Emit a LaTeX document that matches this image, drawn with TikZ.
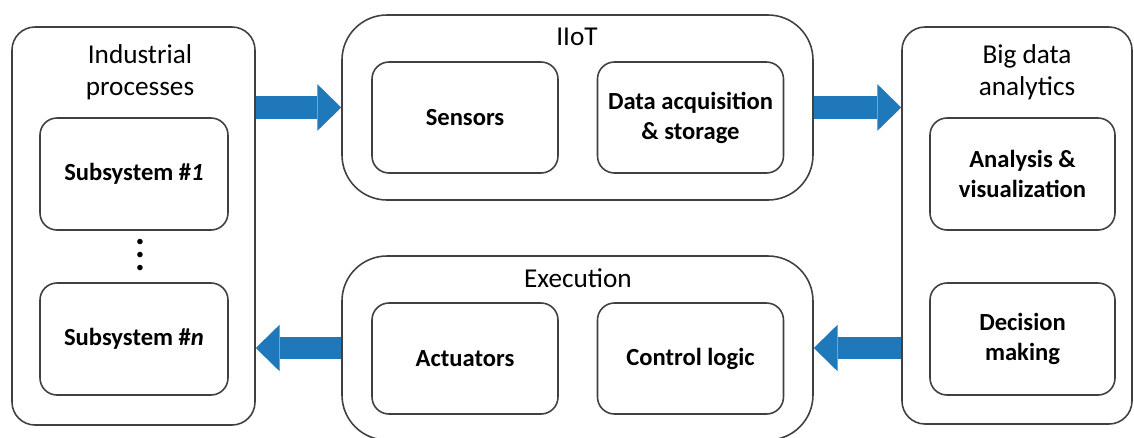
\documentclass[tikz,border=0pt]{standalone}
\usepackage{fontspec}
\setmainfont{Carlito}
\usetikzlibrary{arrows.meta}
\definecolor{flowblue}{HTML}{1E78B9}
\definecolor{edgegray}{HTML}{404040}

\begin{document}
\begin{tikzpicture}[x=0.02cm, y=-0.02cm,
	size/.style 2 args={minimum width=#1*0.02cm, minimum height=#2*0.02cm},
	outer/.style={draw=edgegray, line width=0.9pt, inner sep=0pt},
	inner/.style={outer, rounded corners=0.34cm, align=center,
		font=\fontsize{14}{17}\selectfont\bfseries},
	title/.style={align=center, font=\fontsize{15.5}{18.5}\selectfont},
	flow/.style={draw=flowblue, line width=13pt,
		-{Triangle[length=13.6pt, width=26.6pt, line width=0pt]}}]
	\useasboundingbox (0,0) rectangle (1134,437);
	% outer blocks
	\node[outer, size={243}{398}, rounded corners=0.46cm] (proc) at (133.5, 226) {};
	\node[outer, size={471}{185}, rounded corners=0.9cm] (iiot) at (577.5, 107.5) {};
	\node[outer, size={471}{184}, rounded corners=0.9cm] (exec) at (577.5, 348) {};
	\node[outer, size={230}{397}, rounded corners=0.46cm] (bigdata) at (1017, 225.5) {};
	\node[title] (procT) at (140, 72) {Industrial\\processes};
	\node[title] (iiotT) at (577, 37) {IIoT};
	\node[title] (execT) at (578, 278) {Execution};
	\node[title] (bigdataT) at (1027, 72) {Big data\\analytics};
	% inner blocks
	\node[inner, size={188}{112}] (sub1) at (134, 174) {Subsystem \#\textit{1}};
	\node[inner, size={188}{112}] (subn) at (134, 339) {Subsystem \#\textit{n}};
	\node[align=center, font=\fontsize{21}{7.4}\selectfont\bfseries] (dots) at (140, 255) {.\\.\\.};
	\node[inner, size={186}{111}] (sens) at (465, 117.5) {Sensors};
	\node[inner, size={186}{111}] (daq) at (690.5, 117.5) {Data acquisition\\\& storage};
	\node[inner, size={186}{111}] (act) at (465, 358.5) {Actuators};
	\node[inner, size={186}{111}] (ctrl) at (690.5, 358.5) {Control logic};
	\node[inner, size={185}{112}] (ana) at (1022.5, 174) {Analysis \&\\visualization};
	\node[inner, size={185}{112}] (dec) at (1022.5, 339) {Decision\\making};
	% flows
	\draw[flow] (proc.east |- iiot.west) -- (iiot.west);
	\draw[flow] (iiot.east) -- (bigdata.west |- iiot.east);
	\draw[flow] (bigdata.west |- exec.east) -- (exec.east);
	\draw[flow] (exec.west) -- (proc.east |- exec.west);
\end{tikzpicture}
\end{document}
